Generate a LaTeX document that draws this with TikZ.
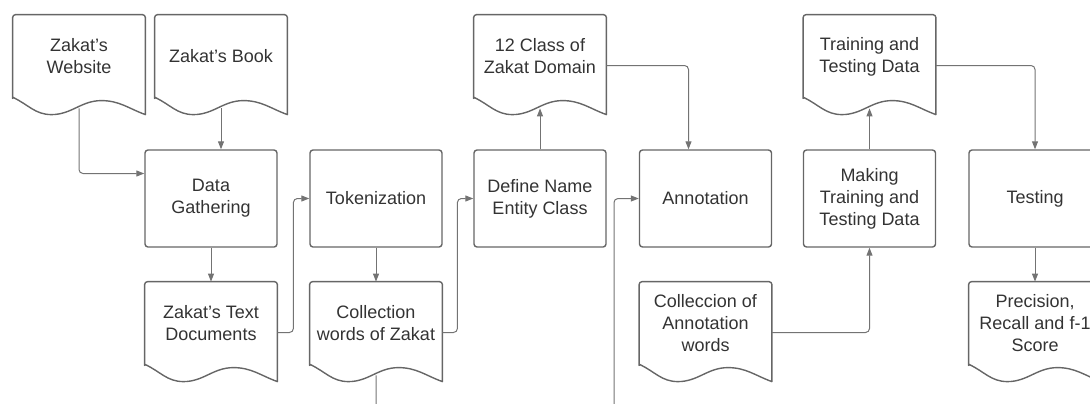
\documentclass[tikz,border=0pt]{standalone}
\usepackage{fontspec}
\setmainfont{Liberation Sans}
\usetikzlibrary{arrows.meta,calc}

\begin{document}
\begin{tikzpicture}[x=0.5pt,y=0.5pt,
		every node/.style={font=\fontsize{9}{11}\selectfont,text=black!80,align=center},
		process/.style={draw=black!60,line width=0.7pt,rounded corners=1.5pt,minimum width=66pt,minimum height=48.5pt,inner sep=1pt},
		document/.style={minimum width=66pt,minimum height=41.5pt,inner sep=1pt},
		docline/.style={draw=black!60,line width=0.7pt,line join=round},
		flow/.style={draw=black!55,line width=0.5pt,rounded corners=2pt,-{Triangle[length=4pt,width=3pt]}}]
		\useasboundingbox (0,0) rectangle (1090,-403);
		\clip (0,0) rectangle (1090,-403);
		\node[document] (web) at (79,-56.5) {Zakat's\\Website};
		\node[document] (book) at (221,-56.5) {Zakat's Book};
		\node[process] (dg) at (211,-198.5) {Data\\Gathering};
		\node[document] (txt) at (211,-323.5) {Zakat's Text\\Documents};
		\node[process] (tok) at (376,-198.5) {Tokenization};
		\node[document] (words) at (376,-323.5) {Collection\\words of Zakat};
		\node[process] (def) at (540,-198.5) {Define Name\\Entity Class};
		\node[document] (cls) at (540,-56.5) {12 Class of\\Zakat Domain};
		\node[process] (ann) at (705.5,-198.5) {Annotation};
		\node[document] (annw) at (705.5,-323.5) {Colleccion of\\Annotation\\words};
		\node[process] (mk) at (869.5,-198.5) {Making\\Training and\\Testing Data};
		\node[document] (ttd) at (869.5,-56.5) {Training and\\Testing Data};
		\node[process] (tst) at (1035,-198.5) {Testing};
		\node[document] (prf) at (1035,-323.5) {Precision,\\Recall and f-1\\Score};
		\foreach \d in {web,book,txt,words,cls,annw,ttd,prf} {
			\draw[docline] (\d.south west) [rounded corners=1.5pt] -- (\d.north west) -- (\d.north east) [sharp corners] -- ++(0,-100)
				to[out=160,in=0] ++(-44,14) to[out=180,in=0] ++(-50,-14) to[out=180,in=-25] ++(-38,17) -- cycle;
			\coordinate (\d-b) at ($(\d.south)+(0,-10)$);
			\coordinate (\d-r) at ($(\d.east)+(0,-9)$);
		}
		\draw[flow] (web-b) |- ($(dg.west)+(0,25)$);
		\draw[flow] (book-b) -- (book-b |- dg.north);
		\draw[flow] (dg.south) -- (txt.north);
		\draw[flow] (txt-r) -- ++(16,0) |- (tok.west);
		\draw[flow] (tok.south) -- (words.north);
		\draw[flow] (words-r) -- ++(15,0) |- (def.west);
		\draw[flow] (def.north) -- (cls-b);
		\draw[flow] (cls-r) -| ($(ann.north)+(-17,0)$);
		\draw[flow] (words-b) -- ++(0,-40) -- ++(238,0) |- (ann.west);
		\draw[flow] (annw-r) -| (mk.south);
		\draw[flow] (mk.north) -- (ttd-b);
		\draw[flow] (ttd-r) -| (tst.north);
		\draw[flow] (tst.south) -- (prf.north);
\end{tikzpicture}
\end{document}
